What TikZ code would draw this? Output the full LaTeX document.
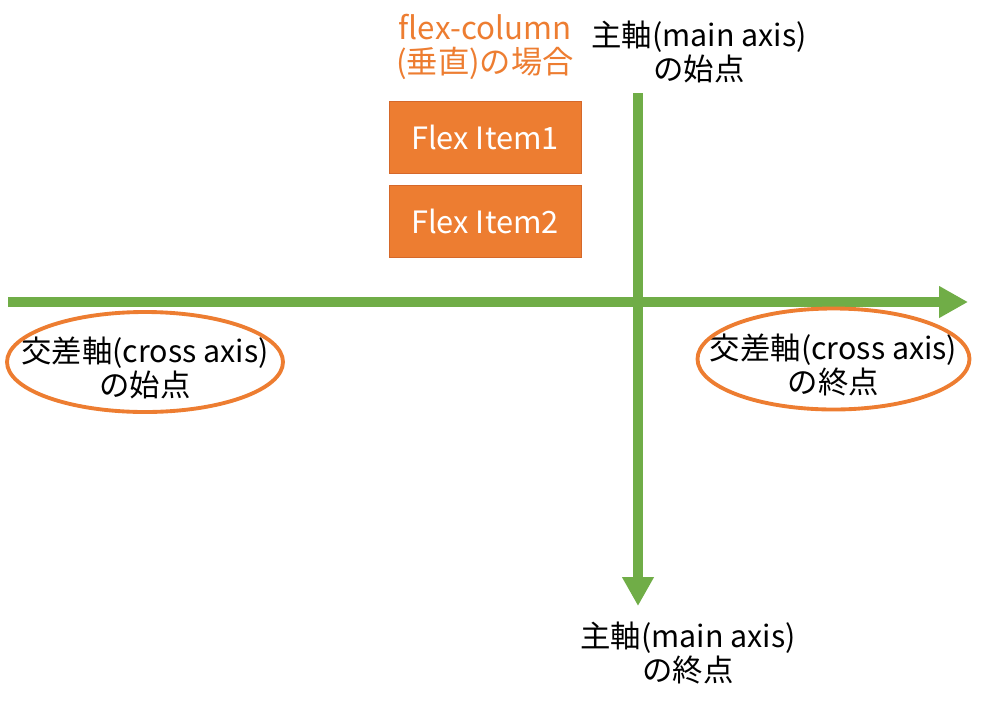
\documentclass[tikz,border=0pt]{standalone}
\usepackage{fontspec}
\setmainfont{Noto Sans CJK JP}
\usetikzlibrary{arrows.meta,positioning}
\definecolor{axisgreen}{HTML}{70AD47}
\definecolor{itemorange}{HTML}{ED7D31}
\definecolor{itemedge}{HTML}{D5682A}

\begin{document}
\begin{tikzpicture}[
  label/.style={
    align=center, inner sep=0pt,
    font=\fontsize{17.3}{19.5}\selectfont
  },
  item/.style={
    draw=itemedge, fill=itemorange, line width=0.5pt,
    minimum width=3.84cm, minimum height=1.44cm,
    text=white, font=\fontsize{17.5}{19.5}\selectfont
  },
  ring/.style={draw=itemorange, line width=2.2pt},
  axis/.style={-{Triangle[length=5.8mm,width=6mm]}, color=axisgreen, line width=2.1mm}
]
  \useasboundingbox (0,0) rectangle (20,-14.08);
  % axes
  \coordinate (crossstart) at (0.16,-6.04);
  \coordinate (crossend)   at (19.36,-6.04);
  \coordinate (mainstart)  at (12.76,-1.86);
  \coordinate (mainend)    at (12.76,-12.12);
  \draw[axis] (crossstart) -- (crossend);
  \draw[axis] (mainstart) -- (mainend);
  % flex items
  \node[label, text=itemorange, font=\fontsize{17.8}{19.5}\selectfont] (title) at (9.7,-0.94) {flex-column\\(垂直)の場合};
  \node[item] (item1) at (9.7,-2.74) {Flex Item1};
  \node[item, below=2.4mm of item1] (item2) {Flex Item2};
  % axis labels
  \node[label] (mainfrom) at (13.98,-1.04) {主軸(main axis)\\の始点};
  \node[label] (mainto)   at (13.76,-13.06) {主軸(main axis)\\の終点};
  \node[label] (crossfrom) at (2.9,-7.36)  {交差軸(cross axis)\\の始点};
  \node[label] (crossto)   at (16.67,-7.3) {交差軸(cross axis)\\の終点};
  \draw[ring] (2.9,-7.24) ellipse [x radius=2.76, y radius=1];
  \draw[ring] (16.67,-7.18) ellipse [x radius=2.72, y radius=1.01];
\end{tikzpicture}
\end{document}
